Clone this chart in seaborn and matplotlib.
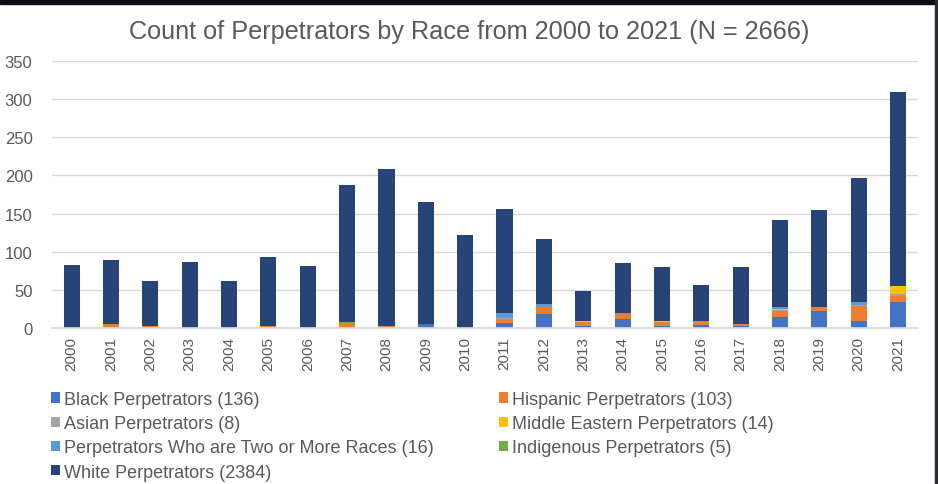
import matplotlib
matplotlib.use('Agg')
import matplotlib.pyplot as plt
from matplotlib.patches import Rectangle
import numpy as np
import seaborn as sns

# Data (stacked counts per year)
years = [str(y) for y in range(2000, 2022)]
black = [0, 0, 0, 0, 0, 0, 0, 0, 0, 5, 0, 7, 18, 3, 12, 2, 4, 3, 14, 22, 9, 34]
hispanic = [0, 5, 2, 0, 0, 2, 0, 5, 3, 0, 0, 5, 9, 5, 8, 6, 5, 2, 8, 5, 20, 8]
asian = [0, 0, 0, 0, 0, 0, 0, 0, 0, 0, 0, 1, 0, 0, 0, 0, 0, 0, 2, 0, 1, 3]
middle_eastern = [0, 0, 0, 0, 0, 0, 0, 0, 0, 0, 0, 0, 0, 1, 0, 1, 0, 0, 1, 0, 0, 10]
two_or_more = [0, 0, 0, 0, 0, 0, 0, 0, 0, 0, 0, 7, 4, 0, 0, 0, 0, 0, 1, 0, 4, 0]
indigenous = [0, 0, 0, 0, 0, 0, 0, 3, 0, 0, 0, 0, 0, 0, 0, 0, 0, 0, 2, 0, 0, 0]
white = [82, 84, 60, 86, 62, 91, 81, 179, 206, 160, 122, 136, 86, 39, 65, 71,
         48, 75, 114, 128, 163, 254]

series = [
    ('Black Perpetrators (136)', black, '#4472C4'),
    ('Hispanic Perpetrators (103)', hispanic, '#ED7D31'),
    ('Asian Perpetrators (8)', asian, '#A5A5A5'),
    ('Middle Eastern Perpetrators (14)', middle_eastern, '#FFC000'),
    ('Perpetrators Who are Two or More Races (16)', two_or_more, '#5B9BD5'),
    ('Indigenous Perpetrators (5)', indigenous, '#70AD47'),
    ('White Perpetrators (2384)', white, '#264478'),
]

sns.set_theme(style='white')
plt.rcParams['font.family'] = ['Liberation Sans', 'DejaVu Sans']
text_color = '#595959'

fig = plt.figure(figsize=(9.38, 4.85), dpi=100)
ax = fig.add_axes([0.0554, 0.3216, 0.923, 0.5505])

bottom = np.zeros(len(years))
for name, vals, col in series:
    sns.barplot(x=years, y=vals, bottom=bottom, color=col, width=0.41,
                saturation=1, errorbar=None, label=name, ax=ax, linewidth=0)
    bottom = bottom + np.array(vals)

if ax.get_legend() is not None:
    ax.get_legend().remove()

ax.set_ylim(0, 350)
ax.set_yticks(range(0, 351, 50))
ax.set_xlim(-0.5, len(years) - 0.5)
ax.set_xlabel('')
ax.set_ylabel('')
ax.yaxis.grid(True, color='#D9D9D9', linewidth=1)
ax.set_axisbelow(True)
for s in ['top', 'right', 'left']:
    ax.spines[s].set_visible(False)
ax.spines['bottom'].set_color('#D9D9D9')
ax.tick_params(axis='both', length=0, colors=text_color)
ax.tick_params(axis='x', rotation=90, pad=6, labelsize=11)
ax.tick_params(axis='y', pad=14, labelsize=12)

fig.suptitle('Count of Perpetrators by Race from 2000 to 2021 (N = 2666)',
             x=0.5, y=0.958, fontsize=18.2, color=text_color)

# legend: row-major order like the original, two columns
handles, labels = ax.get_legend_handles_labels()
order = [0, 2, 4, 6, 1, 3, 5]
leg = fig.legend([handles[i] for i in order], [labels[i] for i in order],
                 loc='upper left', bbox_to_anchor=(0.054, 0.192), ncol=2,
                 frameon=False, fontsize=13, handlelength=0.5, handleheight=0.5,
                 handletextpad=0.25, labelspacing=0.4, columnspacing=3.6,
                 borderaxespad=0, borderpad=0)
for t in leg.get_texts():
    t.set_color(text_color)

# dark frame strips at the top and right edges of the screenshot
fig.add_artist(Rectangle((0, 1 - 5 / 485), 1, 5 / 485, transform=fig.transFigure,
                         color='#0d0d14', zorder=10))
fig.add_artist(Rectangle((1 - 3 / 938, 0), 3 / 938, 1, transform=fig.transFigure,
                         color='#2b2b30', zorder=10))

fig.savefig('out.png', dpi=100)
